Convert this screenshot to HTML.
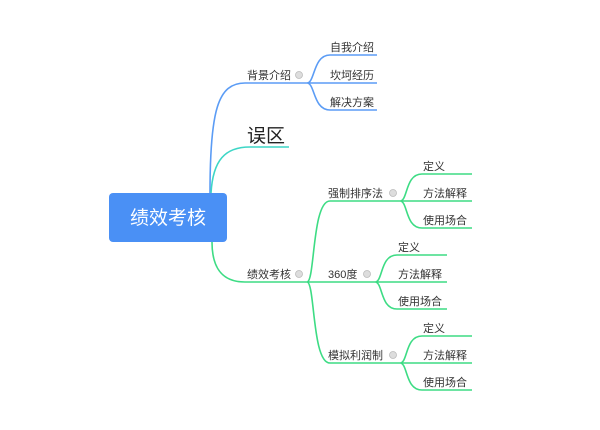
<!DOCTYPE html>
<html><head><meta charset="utf-8"><style>
html,body{margin:0;padding:0;background:#fff;}
svg{display:block;font-family:"Liberation Sans","Noto Sans CJK SC",sans-serif;}
text{font-size:11px;fill:#333;}
</style></head><body>
<svg width="600" height="430" viewBox="0 0 600 430">
<g fill="none" stroke-width="1.6">
<!-- blue -->
<path d="M210 193 C210 110 218 83 245 83 L307 83" stroke="#5b9cf5"/>
<path d="M307 83 C315 83 313 55 330 55 L377 55 M307 83 L377 83 M307 83 C315 83 313 110 330 110 L377 110" stroke="#5b9cf5"/>
<!-- cyan -->
<path d="M211 193 C213 160 225 147 250 147 L289 147" stroke="#3dd6c6"/>
<!-- green -->
<path d="M212 242 C212 268 222 282 245 282 L307 282" stroke="#3ddc84"/>
<path d="M307 282 C315 282 312 201 330 201 L400 201 M307 282 L375 282 M307 282 C315 282 312 363 330 363 L400 363" stroke="#3ddc84"/>
<path d="M400 201 C408 201 405 174 422 174 L472 174 M400 201 L472 201 M400 201 C408 201 405 228 422 228 L472 228" stroke="#3ddc84"/>
<path d="M375 282 C383 282 380 255 397 255 L447 255 M375 282 L447 282 M375 282 C383 282 380 309 397 309 L447 309" stroke="#3ddc84"/>
<path d="M400 363 C408 363 405 336 422 336 L472 336 M400 363 L472 363 M400 363 C408 363 405 390 422 390 L472 390" stroke="#3ddc84"/>
</g>
<rect x="109" y="193" width="118" height="49" rx="4" fill="#4a90f5"/>
<text x="168" y="224" text-anchor="middle" style="font-size:19px;fill:#fff">绩效考核</text>
<text x="247" y="79">背景介绍</text>
<text x="330" y="51">自我介绍</text>
<text x="330" y="79">坎坷经历</text>
<text x="330" y="106">解决方案</text>
<text x="247" y="142" style="font-size:19px;fill:#222">误区</text>
<text x="247" y="278">绩效考核</text>
<text x="328" y="197">强制排序法</text>
<text x="328" y="278">360度</text>
<text x="328" y="359">模拟利润制</text>
<text x="423" y="170">定义</text>
<text x="423" y="197">方法解释</text>
<text x="423" y="224">使用场合</text>
<text x="398" y="251">定义</text>
<text x="398" y="278">方法解释</text>
<text x="398" y="305">使用场合</text>
<text x="423" y="332">定义</text>
<text x="423" y="359">方法解释</text>
<text x="423" y="386">使用场合</text>
<g fill="#ddd" stroke="#bbb" stroke-width="0.8">
<circle cx="299" cy="75" r="3.5"/><circle cx="299" cy="274" r="3.5"/>
<circle cx="393" cy="193" r="3.5"/><circle cx="367" cy="274" r="3.5"/><circle cx="393" cy="355" r="3.5"/>
</g>
</svg>
</body></html>
